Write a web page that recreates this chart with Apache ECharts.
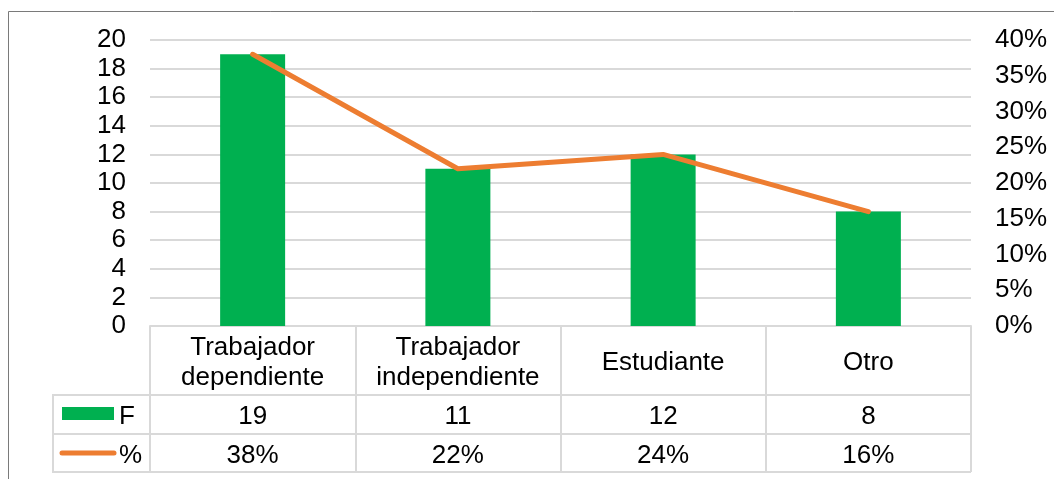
<!DOCTYPE html>
<html>
<head>
<meta charset="utf-8">
<script src="https://cdn.jsdelivr.net/npm/echarts@6/dist/echarts.min.js"></script>
<style>
  html, body { margin: 0; padding: 0; background: #fff; }
  #chart { width: 1054px; height: 479px; }
</style>
</head>
<body>
<div id="chart"></div>
<script>
// datos
const categorias = ['Trabajador\ndependiente', 'Trabajador\nindependiente', 'Estudiante', 'Otro'];
const frecuencia = [19, 11, 12, 8];
const porcentaje = [0.38, 0.22, 0.24, 0.16];

const verde = '#00B050';
const naranja = '#ED7D31';
const borde = '#D9D9D9';
const fuente = 'Liberation Sans, Arial, sans-serif';

const pct = v => Math.round(v * 100) + '%';

let mychart = echarts.init(document.getElementById('chart'));

// filas de la tabla de datos (eje x extra por fila)
function filaEje(margen, valores) {
    return {
        type: 'category',
        gridIndex: 0,
        position: 'bottom',
        data: categorias,
        axisLine: { show: false },
        axisTick: { show: false },
        splitLine: { show: false },
        axisLabel: {
            interval: 0,
            margin: margen,
            verticalAlign: 'middle',
            fontSize: 26,
            fontFamily: fuente,
            color: '#000',
            formatter: (v, i) => valores[i]
        }
    };
}

mychart.setOption({
    animation: false,
    grid: {
        left: 150,
        right: 83,
        top: 40,
        bottom: 153,
        outerBoundsMode: 'none'
    },
    xAxis: [
        {
            type: 'category',
            data: categorias,
            axisLine: { show: true, lineStyle: { color: borde, width: 2 } },
            axisTick: { show: true, length: 146, lineStyle: { color: borde, width: 2 } },
            axisLabel: {
                interval: 0,
                margin: 37,
                verticalAlign: 'middle',
                lineHeight: 30,
                fontSize: 26,
                fontFamily: fuente,
                color: '#000'
            }
        },
        filaEje(91, frecuencia),
        filaEje(130, porcentaje.map(pct))
    ],
    yAxis: [
        {
            type: 'value',
            min: 0,
            max: 20,
            interval: 2,
            axisLine: { show: false },
            axisTick: { show: false },
            splitLine: { lineStyle: { color: borde, width: 2 } },
            axisLabel: { margin: 24, padding: [4, 0, 0, 0], fontSize: 26, fontFamily: fuente, color: '#000' }
        },
        {
            type: 'value',
            min: 0,
            max: 0.4,
            interval: 0.05,
            position: 'right',
            axisLine: { show: false },
            axisTick: { show: false },
            splitLine: { show: false },
            axisLabel: { margin: 24, padding: [4, 0, 0, 0], fontSize: 26, fontFamily: fuente, color: '#000', formatter: pct }
        }
    ],
    series: [
        {
            name: 'F',
            type: 'bar',
            data: frecuencia,
            barWidth: 65,
            itemStyle: { color: verde }
        },
        {
            name: '%',
            type: 'line',
            yAxisIndex: 1,
            data: porcentaje,
            symbol: 'none',
            lineStyle: { color: naranja, width: 5, cap: 'round', join: 'round' },
            z: 5
        }
    ],
    graphic: [
        // marco exterior
        { type: 'rect', shape: { x: 8.5, y: 11.5, width: 1200, height: 600 }, style: { fill: null, stroke: '#7a7a7a', lineWidth: 1 }, silent: true },
        // lineas de la tabla
        { type: 'line', shape: { x1: 53, y1: 395, x2: 971, y2: 395 }, style: { stroke: borde, lineWidth: 2 } },
        { type: 'line', shape: { x1: 53, y1: 434, x2: 971, y2: 434 }, style: { stroke: borde, lineWidth: 2 } },
        { type: 'line', shape: { x1: 53, y1: 472, x2: 971, y2: 472 }, style: { stroke: borde, lineWidth: 2 } },
        { type: 'line', shape: { x1: 53, y1: 394, x2: 53, y2: 473 }, style: { stroke: borde, lineWidth: 2 } },
        // claves de leyenda
        { type: 'rect', shape: { x: 62, y: 407, width: 52, height: 13 }, style: { fill: verde } },
        { type: 'text', x: 119, y: 417, style: { text: 'F', fontSize: 26, fontFamily: fuente, fill: '#000', verticalAlign: 'middle' } },
        { type: 'line', shape: { x1: 62, y1: 453, x2: 114, y2: 453 }, style: { stroke: naranja, lineWidth: 5, lineCap: 'round' } },
        { type: 'text', x: 119, y: 456, style: { text: '%', fontSize: 26, fontFamily: fuente, fill: '#000', verticalAlign: 'middle' } }
    ]
});
</script>
</body>
</html>
